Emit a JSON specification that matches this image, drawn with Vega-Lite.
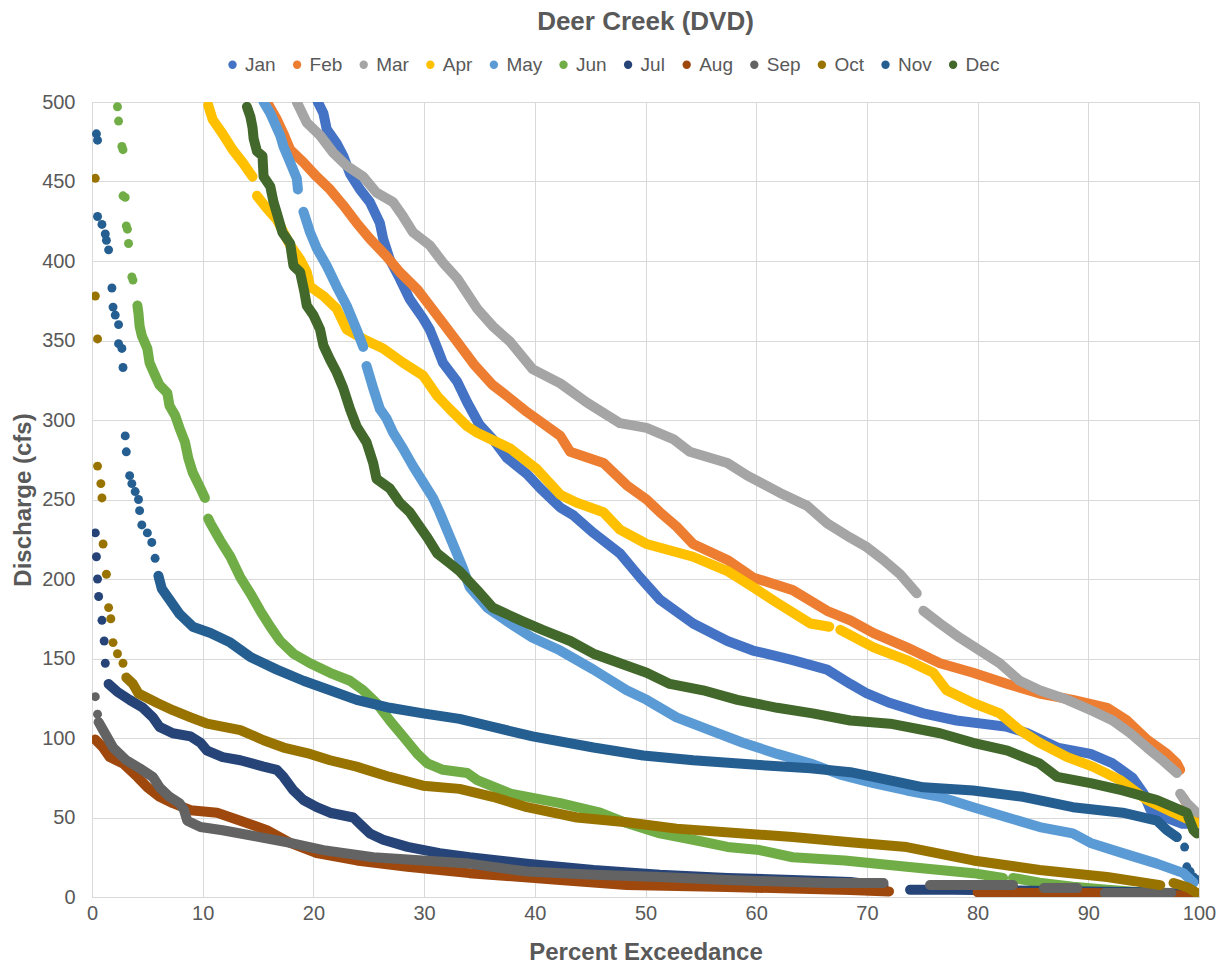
{
"$schema":"https://vega.github.io/schema/vega-lite/v6.json",
"autosize":{"type":"none"},
"width":1107,"height":795,
"padding":{"left":92,"top":102,"right":26,"bottom":71},
"background":"white",
"title":{"text":"Deer Creek (DVD)","fontSize":26,"fontWeight":"bold","color":"#595959","font":"Liberation Sans","anchor":"middle","frame":"group","offset":20},
"config":{"view":{"stroke":null},"font":"Liberation Sans"},
"datasets":{
"dense":[
{"m":"Jan","x":20.4,"y":500},{"m":"Jan","x":20.9,"y":493},{"m":"Jan","x":21.2,"y":483},{"m":"Jan","x":22.1,"y":474},{"m":"Jan","x":22.7,"y":466},{"m":"Jan","x":23.3,"y":455},{"m":"Jan","x":24.2,"y":445},{"m":"Jan","x":25.1,"y":437},{"m":"Jan","x":26,"y":424},{"m":"Jan","x":26.3,"y":414},{"m":"Jan","x":26.9,"y":401},{"m":"Jan","x":27.8,"y":389},{"m":"Jan","x":28.7,"y":376},{"m":"Jan","x":29.9,"y":364},{"m":"Jan","x":30.5,"y":357},{"m":"Jan","x":31.2,"y":345},{"m":"Jan","x":31.7,"y":336},{"m":"Jan","x":33,"y":324},{"m":"Jan","x":33.9,"y":311},{"m":"Jan","x":35,"y":297},{"m":"Jan","x":36.2,"y":288},{"m":"Jan","x":37.5,"y":276},{"m":"Jan","x":39.3,"y":266},{"m":"Jan","x":40.5,"y":257},{"m":"Jan","x":42.3,"y":245},{"m":"Jan","x":43.5,"y":240},{"m":"Jan","x":45.3,"y":229},{"m":"Jan","x":47.7,"y":216},{"m":"Jan","x":49.5,"y":201},{"m":"Jan","x":51.3,"y":187},{"m":"Jan","x":54.3,"y":172},{"m":"Jan","x":57.4,"y":161},{"m":"Jan","x":59.7,"y":155},{"m":"Jan","x":63.3,"y":149},{"m":"Jan","x":66.4,"y":143},{"m":"Jan","x":68.5,"y":134},{"m":"Jan","x":70,"y":128},{"m":"Jan","x":72.1,"y":122},{"m":"Jan","x":75.1,"y":115.5},{"m":"Jan","x":78.1,"y":111},{"m":"Jan","x":82.7,"y":107},{"m":"Jan","x":84.5,"y":103},{"m":"Jan","x":87.2,"y":94},{"m":"Jan","x":90.2,"y":90},{"m":"Jan","x":92.2,"y":84},{"m":"Jan","x":94,"y":75},{"m":"Jan","x":95,"y":65},{"m":"Jan","x":95.6,"y":55},{"m":"Jan","x":97,"y":50},{"m":"Jan","x":98.5,"y":46},{"m":"Jan","x":99.5,"y":46},
{"m":"Feb","x":15.8,"y":500},{"m":"Feb","x":16.7,"y":489},{"m":"Feb","x":17.3,"y":480},{"m":"Feb","x":17.9,"y":470},{"m":"Feb","x":19.1,"y":462},{"m":"Feb","x":20.3,"y":453},{"m":"Feb","x":21.5,"y":445},{"m":"Feb","x":22.7,"y":435},{"m":"Feb","x":23.9,"y":424},{"m":"Feb","x":25.1,"y":414},{"m":"Feb","x":26.6,"y":403},{"m":"Feb","x":27.8,"y":393},{"m":"Feb","x":29.4,"y":382},{"m":"Feb","x":30.5,"y":372},{"m":"Feb","x":31.7,"y":361},{"m":"Feb","x":33,"y":349},{"m":"Feb","x":34.5,"y":335},{"m":"Feb","x":36.2,"y":322},{"m":"Feb","x":37.5,"y":315},{"m":"Feb","x":39.3,"y":305},{"m":"Feb","x":42.3,"y":290},{"m":"Feb","x":43.2,"y":280},{"m":"Feb","x":46.2,"y":273},{"m":"Feb","x":48.3,"y":259},{"m":"Feb","x":50.1,"y":250},{"m":"Feb","x":51.3,"y":242},{"m":"Feb","x":52.8,"y":233},{"m":"Feb","x":54.3,"y":222},{"m":"Feb","x":57.4,"y":212},{"m":"Feb","x":59.7,"y":201},{"m":"Feb","x":63.3,"y":193},{"m":"Feb","x":66.4,"y":180},{"m":"Feb","x":68.5,"y":174},{"m":"Feb","x":70.6,"y":166},{"m":"Feb","x":73.6,"y":157},{"m":"Feb","x":76.6,"y":147},{"m":"Feb","x":79.6,"y":141},{"m":"Feb","x":82.7,"y":134},{"m":"Feb","x":85.6,"y":128},{"m":"Feb","x":88.6,"y":124},{"m":"Feb","x":91.7,"y":119},{"m":"Feb","x":93.5,"y":111},{"m":"Feb","x":95.3,"y":99},{"m":"Feb","x":97.1,"y":90},{"m":"Feb","x":98,"y":84},{"m":"Feb","x":98.3,"y":80},{"m":"Feb","x":98.6,"y":62,"g":2},{"m":"Feb","x":99.2,"y":55,"g":2},{"m":"Feb","x":99.8,"y":48,"g":2},
{"m":"Mar","x":18.5,"y":500},{"m":"Mar","x":19.4,"y":487},{"m":"Mar","x":20.6,"y":479},{"m":"Mar","x":21.8,"y":468},{"m":"Mar","x":23,"y":460},{"m":"Mar","x":24.5,"y":453},{"m":"Mar","x":25.7,"y":443},{"m":"Mar","x":27.2,"y":437},{"m":"Mar","x":28.1,"y":428},{"m":"Mar","x":29,"y":418},{"m":"Mar","x":30.5,"y":410},{"m":"Mar","x":31.7,"y":399},{"m":"Mar","x":33,"y":389},{"m":"Mar","x":34.8,"y":370},{"m":"Mar","x":36.2,"y":359},{"m":"Mar","x":37.8,"y":349},{"m":"Mar","x":39.8,"y":332},{"m":"Mar","x":42.3,"y":323},{"m":"Mar","x":44.7,"y":311},{"m":"Mar","x":47.7,"y":298},{"m":"Mar","x":50.1,"y":295},{"m":"Mar","x":52.5,"y":288},{"m":"Mar","x":54,"y":280},{"m":"Mar","x":57.4,"y":273},{"m":"Mar","x":59.2,"y":265},{"m":"Mar","x":62.2,"y":254},{"m":"Mar","x":64.6,"y":246},{"m":"Mar","x":66.4,"y":235},{"m":"Mar","x":68.5,"y":226},{"m":"Mar","x":70,"y":220},{"m":"Mar","x":71.5,"y":212},{"m":"Mar","x":73,"y":203},{"m":"Mar","x":74.5,"y":191},{"m":"Mar","x":75.1,"y":180,"g":2},{"m":"Mar","x":76.6,"y":172,"g":2},{"m":"Mar","x":78.4,"y":163,"g":2},{"m":"Mar","x":80.2,"y":155,"g":2},{"m":"Mar","x":82,"y":147,"g":2},{"m":"Mar","x":83.8,"y":136,"g":2},{"m":"Mar","x":85.6,"y":130,"g":2},{"m":"Mar","x":88.1,"y":124,"g":2},{"m":"Mar","x":90.4,"y":117,"g":2},{"m":"Mar","x":92.2,"y":111,"g":2},{"m":"Mar","x":93.8,"y":103,"g":2},{"m":"Mar","x":95.3,"y":94,"g":2},{"m":"Mar","x":96.7,"y":86,"g":2},{"m":"Mar","x":98,"y":78,"g":2},{"m":"Mar","x":98.3,"y":65,"g":3},{"m":"Mar","x":98.9,"y":59,"g":3},{"m":"Mar","x":99.8,"y":53,"g":3},
{"m":"Apr","x":10.5,"y":498},{"m":"Apr","x":10.9,"y":489},{"m":"Apr","x":11.8,"y":480},{"m":"Apr","x":12.7,"y":470},{"m":"Apr","x":13.6,"y":462},{"m":"Apr","x":14.5,"y":453},{"m":"Apr","x":14.9,"y":441,"g":2},{"m":"Apr","x":15.8,"y":433,"g":2},{"m":"Apr","x":16.7,"y":426,"g":2},{"m":"Apr","x":17.9,"y":410,"g":2},{"m":"Apr","x":18.8,"y":401,"g":2},{"m":"Apr","x":19.4,"y":393,"g":2},{"m":"Apr","x":19.7,"y":384,"g":2},{"m":"Apr","x":20.9,"y":378,"g":2},{"m":"Apr","x":22.1,"y":370,"g":2},{"m":"Apr","x":23,"y":357,"g":2},{"m":"Apr","x":24.5,"y":351,"g":2},{"m":"Apr","x":26.3,"y":345,"g":2},{"m":"Apr","x":28.1,"y":336,"g":2},{"m":"Apr","x":29.9,"y":328,"g":2},{"m":"Apr","x":31.2,"y":315,"g":2},{"m":"Apr","x":32.3,"y":307,"g":2},{"m":"Apr","x":33.9,"y":296,"g":2},{"m":"Apr","x":34.8,"y":292,"g":2},{"m":"Apr","x":37.8,"y":282,"g":2},{"m":"Apr","x":40.2,"y":269,"g":2},{"m":"Apr","x":42.3,"y":253,"g":2},{"m":"Apr","x":43.8,"y":248,"g":2},{"m":"Apr","x":46.2,"y":242,"g":2},{"m":"Apr","x":47.7,"y":231,"g":2},{"m":"Apr","x":50.1,"y":222,"g":2},{"m":"Apr","x":54.3,"y":214,"g":2},{"m":"Apr","x":57.4,"y":205,"g":2},{"m":"Apr","x":59.7,"y":195,"g":2},{"m":"Apr","x":61.9,"y":185,"g":2},{"m":"Apr","x":64.9,"y":172,"g":2},{"m":"Apr","x":66.6,"y":170,"g":2},{"m":"Apr","x":67.6,"y":168,"g":3},{"m":"Apr","x":70.6,"y":157,"g":3},{"m":"Apr","x":73.6,"y":149,"g":3},{"m":"Apr","x":76,"y":141,"g":3},{"m":"Apr","x":77.2,"y":130,"g":3},{"m":"Apr","x":79.6,"y":122,"g":3},{"m":"Apr","x":82,"y":115.5,"g":3},{"m":"Apr","x":83.8,"y":105,"g":3},{"m":"Apr","x":85.6,"y":97,"g":3},{"m":"Apr","x":88.1,"y":88,"g":3},{"m":"Apr","x":90.4,"y":82,"g":3},{"m":"Apr","x":92.9,"y":73.5,"g":3},{"m":"Apr","x":95.3,"y":61,"g":3},{"m":"Apr","x":97.7,"y":53,"g":3},{"m":"Apr","x":99.8,"y":46.5,"g":3},
{"m":"May","x":15.5,"y":500},{"m":"May","x":16.1,"y":493},{"m":"May","x":17,"y":479},{"m":"May","x":17.3,"y":472},{"m":"May","x":17.9,"y":462},{"m":"May","x":18.5,"y":452},{"m":"May","x":18.6,"y":445},{"m":"May","x":19.1,"y":431,"g":2},{"m":"May","x":19.7,"y":418,"g":2},{"m":"May","x":20.3,"y":408,"g":2},{"m":"May","x":21.2,"y":397,"g":2},{"m":"May","x":22.1,"y":384,"g":2},{"m":"May","x":23,"y":372,"g":2},{"m":"May","x":23.9,"y":357,"g":2},{"m":"May","x":24.5,"y":346,"g":2},{"m":"May","x":24.8,"y":334,"g":3},{"m":"May","x":25.4,"y":320,"g":3},{"m":"May","x":26,"y":307,"g":3},{"m":"May","x":26.6,"y":301,"g":3},{"m":"May","x":27.2,"y":292,"g":3},{"m":"May","x":28.1,"y":282,"g":3},{"m":"May","x":29,"y":271,"g":3},{"m":"May","x":29.9,"y":261,"g":3},{"m":"May","x":30.8,"y":251,"g":3},{"m":"May","x":31.4,"y":242,"g":3},{"m":"May","x":32.6,"y":222,"g":3},{"m":"May","x":33.5,"y":207,"g":3},{"m":"May","x":34.1,"y":195,"g":3},{"m":"May","x":35.7,"y":182,"g":3},{"m":"May","x":37.8,"y":172,"g":3},{"m":"May","x":39.8,"y":163,"g":3},{"m":"May","x":42.3,"y":155,"g":3},{"m":"May","x":45.3,"y":143,"g":3},{"m":"May","x":48.3,"y":130,"g":3},{"m":"May","x":50.1,"y":124,"g":3},{"m":"May","x":52.8,"y":113,"g":3},{"m":"May","x":55.8,"y":105,"g":3},{"m":"May","x":58.8,"y":97,"g":3},{"m":"May","x":61.9,"y":90,"g":3},{"m":"May","x":64.9,"y":84,"g":3},{"m":"May","x":67.6,"y":77,"g":3},{"m":"May","x":70.6,"y":71.6,"g":3},{"m":"May","x":73.6,"y":67,"g":3},{"m":"May","x":76.6,"y":63,"g":3},{"m":"May","x":79.6,"y":56.5,"g":3},{"m":"May","x":82.7,"y":50,"g":3},{"m":"May","x":85.6,"y":44,"g":3},{"m":"May","x":88.6,"y":40,"g":3},{"m":"May","x":90.2,"y":34,"g":3},{"m":"May","x":93.1,"y":27.6,"g":3},{"m":"May","x":96.2,"y":21,"g":3},{"m":"May","x":98.6,"y":15,"g":3},{"m":"May","x":99.5,"y":9,"g":3},
{"m":"Jun","x":4.1,"y":372},{"m":"Jun","x":4.2,"y":367},{"m":"Jun","x":4.3,"y":359},{"m":"Jun","x":4.5,"y":353},{"m":"Jun","x":5,"y":345},{"m":"Jun","x":5.2,"y":336},{"m":"Jun","x":5.7,"y":328},{"m":"Jun","x":6.1,"y":322},{"m":"Jun","x":6.8,"y":317},{"m":"Jun","x":7,"y":309},{"m":"Jun","x":7.5,"y":303},{"m":"Jun","x":7.9,"y":295},{"m":"Jun","x":8.4,"y":286},{"m":"Jun","x":8.7,"y":276},{"m":"Jun","x":9.1,"y":267},{"m":"Jun","x":9.8,"y":257},{"m":"Jun","x":10.2,"y":251},{"m":"Jun","x":10.5,"y":238,"g":2},{"m":"Jun","x":10.7,"y":235,"g":2},{"m":"Jun","x":11.6,"y":224,"g":2},{"m":"Jun","x":12.5,"y":214,"g":2},{"m":"Jun","x":13.4,"y":201,"g":2},{"m":"Jun","x":14.3,"y":191,"g":2},{"m":"Jun","x":15.2,"y":180,"g":2},{"m":"Jun","x":16.1,"y":170,"g":2},{"m":"Jun","x":17,"y":161,"g":2},{"m":"Jun","x":18.2,"y":153,"g":2},{"m":"Jun","x":19.7,"y":147,"g":2},{"m":"Jun","x":21.5,"y":141,"g":2},{"m":"Jun","x":23.3,"y":136,"g":2},{"m":"Jun","x":24.5,"y":130,"g":2},{"m":"Jun","x":25.7,"y":122,"g":2},{"m":"Jun","x":26.9,"y":111,"g":2},{"m":"Jun","x":28.1,"y":101,"g":2},{"m":"Jun","x":29.4,"y":90,"g":2},{"m":"Jun","x":30.3,"y":84,"g":2},{"m":"Jun","x":31.7,"y":80,"g":2},{"m":"Jun","x":33.9,"y":78,"g":2},{"m":"Jun","x":34.8,"y":73.5,"g":2},{"m":"Jun","x":37.8,"y":65,"g":2},{"m":"Jun","x":42.3,"y":59,"g":2},{"m":"Jun","x":45.9,"y":53,"g":2},{"m":"Jun","x":48.3,"y":46.5,"g":2},{"m":"Jun","x":51.3,"y":40,"g":2},{"m":"Jun","x":54.3,"y":36,"g":2},{"m":"Jun","x":57.4,"y":31.5,"g":2},{"m":"Jun","x":60.3,"y":29.5,"g":2},{"m":"Jun","x":63.3,"y":25,"g":2},{"m":"Jun","x":68,"y":23,"g":2},{"m":"Jun","x":73.6,"y":19,"g":2},{"m":"Jun","x":79.6,"y":15,"g":2},{"m":"Jun","x":82.3,"y":12,"g":2},{"m":"Jun","x":83.2,"y":12,"g":3},{"m":"Jun","x":85.6,"y":9,"g":3},{"m":"Jun","x":88.6,"y":6.5,"g":3},{"m":"Jun","x":91.7,"y":4.5,"g":3},{"m":"Jun","x":94.7,"y":3,"g":3},{"m":"Jun","x":97.7,"y":2.5,"g":3},{"m":"Jun","x":99.8,"y":1,"g":3},
{"m":"Jul","x":1.5,"y":134},{"m":"Jul","x":2.3,"y":129},{"m":"Jul","x":3.4,"y":124},{"m":"Jul","x":4.6,"y":119},{"m":"Jul","x":5.5,"y":113},{"m":"Jul","x":6.1,"y":107},{"m":"Jul","x":7.3,"y":103},{"m":"Jul","x":8.9,"y":101},{"m":"Jul","x":9.8,"y":97},{"m":"Jul","x":10.4,"y":92},{"m":"Jul","x":11.8,"y":88},{"m":"Jul","x":13.4,"y":86},{"m":"Jul","x":15.5,"y":82},{"m":"Jul","x":16.7,"y":80},{"m":"Jul","x":17.3,"y":75.5},{"m":"Jul","x":18.2,"y":67},{"m":"Jul","x":19.1,"y":61},{"m":"Jul","x":20.3,"y":56.5},{"m":"Jul","x":21.5,"y":53},{"m":"Jul","x":23.6,"y":50},{"m":"Jul","x":24.5,"y":44},{"m":"Jul","x":25.1,"y":40},{"m":"Jul","x":26.3,"y":36},{"m":"Jul","x":28.5,"y":31.5},{"m":"Jul","x":31.4,"y":27.6},{"m":"Jul","x":34.1,"y":25},{"m":"Jul","x":39.3,"y":21},{"m":"Jul","x":45.3,"y":17},{"m":"Jul","x":51.3,"y":14},{"m":"Jul","x":57.4,"y":12},{"m":"Jul","x":63.3,"y":10.7},{"m":"Jul","x":68.5,"y":9.4},{"m":"Jul","x":71.5,"y":7},{"m":"Jul","x":73.9,"y":4.5,"g":2},{"m":"Jul","x":77.8,"y":4.5,"g":2},{"m":"Jul","x":85,"y":4,"g":2},{"m":"Jul","x":90,"y":3.5,"g":2},{"m":"Jul","x":95,"y":3,"g":2},{"m":"Jul","x":99.8,"y":1.5,"g":2},
{"m":"Aug","x":0.3,"y":99},{"m":"Aug","x":1,"y":94},{"m":"Aug","x":1.6,"y":88},{"m":"Aug","x":2.8,"y":84},{"m":"Aug","x":4.1,"y":75.5},{"m":"Aug","x":5,"y":69},{"m":"Aug","x":6.1,"y":63},{"m":"Aug","x":7.3,"y":59},{"m":"Aug","x":8.9,"y":54.6},{"m":"Aug","x":11.3,"y":53},{"m":"Aug","x":13.4,"y":48},{"m":"Aug","x":15.8,"y":42},{"m":"Aug","x":17.9,"y":34},{"m":"Aug","x":20.3,"y":27.6},{"m":"Aug","x":23.9,"y":23},{"m":"Aug","x":28.5,"y":19},{"m":"Aug","x":34.1,"y":15},{"m":"Aug","x":42.3,"y":10.7},{"m":"Aug","x":48.3,"y":7.5},{"m":"Aug","x":57.4,"y":6.3},{"m":"Aug","x":68.5,"y":4.4},{"m":"Aug","x":72,"y":3.5},{"m":"Aug","x":80,"y":3,"g":2},{"m":"Aug","x":85,"y":2.5,"g":2},{"m":"Aug","x":90,"y":2.5,"g":2},{"m":"Aug","x":95,"y":2,"g":2},{"m":"Aug","x":99.8,"y":0.5,"g":2},
{"m":"Sep","x":0.6,"y":110},{"m":"Sep","x":1,"y":105},{"m":"Sep","x":1.9,"y":94},{"m":"Sep","x":3.1,"y":86},{"m":"Sep","x":4.3,"y":81},{"m":"Sep","x":5.5,"y":75.5},{"m":"Sep","x":6.1,"y":69},{"m":"Sep","x":7,"y":63},{"m":"Sep","x":7.9,"y":59},{"m":"Sep","x":8.3,"y":55},{"m":"Sep","x":8.6,"y":48},{"m":"Sep","x":9.8,"y":44},{"m":"Sep","x":11.8,"y":42},{"m":"Sep","x":14.9,"y":38},{"m":"Sep","x":17.9,"y":34},{"m":"Sep","x":20.9,"y":29.5},{"m":"Sep","x":25.4,"y":25},{"m":"Sep","x":29.9,"y":23},{"m":"Sep","x":34.1,"y":21},{"m":"Sep","x":39.3,"y":16},{"m":"Sep","x":45.3,"y":14},{"m":"Sep","x":51.3,"y":12.6},{"m":"Sep","x":57.4,"y":10.7},{"m":"Sep","x":63.3,"y":9.4},{"m":"Sep","x":66.4,"y":8.8},{"m":"Sep","x":71.5,"y":8.8},{"m":"Sep","x":75.7,"y":7.5,"g":2},{"m":"Sep","x":83.2,"y":7.5,"g":2},{"m":"Sep","x":86,"y":5.6,"g":3},{"m":"Sep","x":89,"y":5.6,"g":3},{"m":"Sep","x":91.5,"y":2.5,"g":4},{"m":"Sep","x":97.5,"y":2.5,"g":4},
{"m":"Oct","x":3.1,"y":138},{"m":"Oct","x":3.7,"y":134},{"m":"Oct","x":4.2,"y":128},{"m":"Oct","x":5.9,"y":122},{"m":"Oct","x":7.3,"y":117.5},{"m":"Oct","x":8.9,"y":113},{"m":"Oct","x":10.4,"y":109},{"m":"Oct","x":13.4,"y":105},{"m":"Oct","x":15.5,"y":98.6},{"m":"Oct","x":17.3,"y":94},{"m":"Oct","x":19.7,"y":90},{"m":"Oct","x":21.5,"y":86},{"m":"Oct","x":23.9,"y":82},{"m":"Oct","x":26.9,"y":75.5},{"m":"Oct","x":29.9,"y":70},{"m":"Oct","x":33.2,"y":68},{"m":"Oct","x":36.2,"y":63},{"m":"Oct","x":39.3,"y":56.5},{"m":"Oct","x":43.8,"y":50},{"m":"Oct","x":48.3,"y":47},{"m":"Oct","x":52.8,"y":43},{"m":"Oct","x":58.8,"y":40},{"m":"Oct","x":63.3,"y":37.7},{"m":"Oct","x":68.5,"y":34.5},{"m":"Oct","x":73.6,"y":31.4},{"m":"Oct","x":79.6,"y":23},{"m":"Oct","x":85.6,"y":17},{"m":"Oct","x":91.7,"y":12.6},{"m":"Oct","x":96.5,"y":7.5},{"m":"Oct","x":97.7,"y":8.8,"g":2},{"m":"Oct","x":99,"y":6,"g":2},{"m":"Oct","x":99.8,"y":2.5,"g":2},
{"m":"Nov","x":6,"y":202},{"m":"Nov","x":6.3,"y":194},{"m":"Nov","x":7,"y":187},{"m":"Nov","x":7.9,"y":178},{"m":"Nov","x":9.1,"y":170},{"m":"Nov","x":10.7,"y":166},{"m":"Nov","x":12.5,"y":160},{"m":"Nov","x":14.3,"y":151},{"m":"Nov","x":16.7,"y":143},{"m":"Nov","x":19.1,"y":136},{"m":"Nov","x":21.5,"y":130},{"m":"Nov","x":23.9,"y":124},{"m":"Nov","x":26.9,"y":119},{"m":"Nov","x":29.9,"y":115.5},{"m":"Nov","x":33.2,"y":112},{"m":"Nov","x":36.2,"y":107},{"m":"Nov","x":39.8,"y":101},{"m":"Nov","x":45.3,"y":94},{"m":"Nov","x":49.8,"y":89},{"m":"Nov","x":54.3,"y":86},{"m":"Nov","x":60.3,"y":83},{"m":"Nov","x":64.9,"y":81},{"m":"Nov","x":68.5,"y":78.5},{"m":"Nov","x":70.6,"y":75.5},{"m":"Nov","x":75.1,"y":69},{"m":"Nov","x":79.6,"y":67},{"m":"Nov","x":84.1,"y":63},{"m":"Nov","x":88.6,"y":56.5},{"m":"Nov","x":93.1,"y":53},{"m":"Nov","x":96.2,"y":48},{"m":"Nov","x":97.1,"y":42},{"m":"Nov","x":98,"y":37.7},
{"m":"Dec","x":14,"y":497},{"m":"Dec","x":14.3,"y":491},{"m":"Dec","x":14.5,"y":484},{"m":"Dec","x":14.6,"y":477},{"m":"Dec","x":14.9,"y":469},{"m":"Dec","x":15.4,"y":466},{"m":"Dec","x":15.5,"y":453},{"m":"Dec","x":16.1,"y":447},{"m":"Dec","x":16.4,"y":437},{"m":"Dec","x":16.7,"y":430},{"m":"Dec","x":17.2,"y":418},{"m":"Dec","x":17.9,"y":411},{"m":"Dec","x":18.2,"y":397},{"m":"Dec","x":18.8,"y":393},{"m":"Dec","x":19.2,"y":380},{"m":"Dec","x":19.4,"y":372},{"m":"Dec","x":20,"y":366},{"m":"Dec","x":20.6,"y":357},{"m":"Dec","x":20.9,"y":347},{"m":"Dec","x":21.5,"y":338},{"m":"Dec","x":22.1,"y":330},{"m":"Dec","x":22.7,"y":320},{"m":"Dec","x":23.3,"y":307},{"m":"Dec","x":23.9,"y":296},{"m":"Dec","x":24.8,"y":286},{"m":"Dec","x":25.4,"y":273},{"m":"Dec","x":25.7,"y":263},{"m":"Dec","x":26.9,"y":257},{"m":"Dec","x":27.8,"y":248},{"m":"Dec","x":28.7,"y":242},{"m":"Dec","x":29.4,"y":235},{"m":"Dec","x":30.3,"y":226},{"m":"Dec","x":31.2,"y":216},{"m":"Dec","x":32.3,"y":210},{"m":"Dec","x":33.2,"y":205},{"m":"Dec","x":34.8,"y":193},{"m":"Dec","x":36.2,"y":182},{"m":"Dec","x":38.7,"y":174},{"m":"Dec","x":40.7,"y":168},{"m":"Dec","x":43.2,"y":161},{"m":"Dec","x":45.3,"y":153},{"m":"Dec","x":47.7,"y":147},{"m":"Dec","x":50.1,"y":141},{"m":"Dec","x":52.2,"y":134},{"m":"Dec","x":55.2,"y":130},{"m":"Dec","x":58.3,"y":124},{"m":"Dec","x":61.9,"y":119},{"m":"Dec","x":65.1,"y":115.5},{"m":"Dec","x":68.5,"y":111},{"m":"Dec","x":72.1,"y":109},{"m":"Dec","x":76.6,"y":103},{"m":"Dec","x":79.6,"y":97},{"m":"Dec","x":82.7,"y":92},{"m":"Dec","x":85.6,"y":84},{"m":"Dec","x":87.2,"y":75.5},{"m":"Dec","x":90.2,"y":71.6},{"m":"Dec","x":93.1,"y":67},{"m":"Dec","x":96.2,"y":61},{"m":"Dec","x":98.9,"y":53},{"m":"Dec","x":99.5,"y":42},{"m":"Dec","x":99.8,"y":40}
],
"sparse":[
{"m":"Jun","x":2.3,"y":497},{"m":"Jun","x":2.4,"y":488},{"m":"Jun","x":2.7,"y":472},{"m":"Jun","x":2.8,"y":470},{"m":"Jun","x":2.8,"y":441},{"m":"Jun","x":3.0,"y":440},{"m":"Jun","x":3.1,"y":422},{"m":"Jun","x":3.2,"y":420},{"m":"Jun","x":3.3,"y":411},{"m":"Jun","x":3.6,"y":390},{"m":"Jun","x":3.7,"y":388},
{"m":"Jul","x":0.3,"y":229},{"m":"Jul","x":0.4,"y":214},{"m":"Jul","x":0.5,"y":200},{"m":"Jul","x":0.6,"y":189},{"m":"Jul","x":0.9,"y":174},{"m":"Jul","x":1.1,"y":161},{"m":"Jul","x":1.2,"y":147},
{"m":"Sep","x":0.3,"y":126},{"m":"Sep","x":0.5,"y":115},
{"m":"Oct","x":0.3,"y":452},{"m":"Oct","x":0.3,"y":378},{"m":"Oct","x":0.5,"y":351},{"m":"Oct","x":0.5,"y":271},{"m":"Oct","x":0.8,"y":260},{"m":"Oct","x":0.9,"y":251},{"m":"Oct","x":1,"y":222},{"m":"Oct","x":1.3,"y":203},{"m":"Oct","x":1.5,"y":182},{"m":"Oct","x":1.7,"y":175},{"m":"Oct","x":1.9,"y":160},{"m":"Oct","x":2.3,"y":153},{"m":"Oct","x":2.8,"y":147},
{"m":"Nov","x":0.4,"y":480},{"m":"Nov","x":0.5,"y":476},{"m":"Nov","x":0.5,"y":428},{"m":"Nov","x":0.9,"y":423},{"m":"Nov","x":1.2,"y":417},{"m":"Nov","x":1.3,"y":413},{"m":"Nov","x":1.5,"y":407},{"m":"Nov","x":1.8,"y":383},{"m":"Nov","x":1.9,"y":371},{"m":"Nov","x":2.1,"y":366},{"m":"Nov","x":2.4,"y":360},{"m":"Nov","x":2.4,"y":348},{"m":"Nov","x":2.7,"y":345},{"m":"Nov","x":2.8,"y":333},{"m":"Nov","x":3,"y":290},{"m":"Nov","x":3.1,"y":280},{"m":"Nov","x":3.4,"y":265},{"m":"Nov","x":3.6,"y":260},{"m":"Nov","x":3.9,"y":255},{"m":"Nov","x":4.2,"y":250},{"m":"Nov","x":4.3,"y":243},{"m":"Nov","x":4.5,"y":234},{"m":"Nov","x":5,"y":229},{"m":"Nov","x":5.4,"y":223},{"m":"Nov","x":5.7,"y":213},{"m":"Nov","x":98.7,"y":31.4},{"m":"Nov","x":98.9,"y":19},{"m":"Nov","x":99.2,"y":16},{"m":"Nov","x":99.5,"y":12.6},{"m":"Nov","x":99.8,"y":11}
]
},
"encoding":{
"x":{"field":"x","type":"quantitative","scale":{"domain":[0,100],"nice":false,"zero":false},
"axis":{"values":[0,10,20,30,40,50,60,70,80,90,100],"labelFlush":false,"labelFontSize":20,"labelColor":"#595959","labelPadding":6,"grid":true,"gridColor":"#D9D9D9","domainColor":"#D9D9D9","ticks":false,"title":"Percent Exceedance","titleFontSize":24,"titleFontWeight":"bold","titleColor":"#595959","titlePadding":17}},
"y":{"field":"y","type":"quantitative","scale":{"domain":[0,500],"nice":false},
"axis":{"values":[0,50,100,150,200,250,300,350,400,450,500],"labelFontSize":20,"labelColor":"#595959","labelPadding":17,"grid":true,"gridColor":"#D9D9D9","domainColor":"#D9D9D9","ticks":false,"title":"Discharge (cfs)","titleFontSize":24,"titleFontWeight":"bold","titleColor":"#595959","titlePadding":6}},
"color":{"field":"m","type":"nominal",
"scale":{"domain":["Jan","Feb","Mar","Apr","May","Jun","Jul","Aug","Sep","Oct","Nov","Dec"],"range":["#4472C4","#ED7D31","#A5A5A5","#FFC000","#5B9BD5","#70AD47","#264478","#9E480E","#636363","#997300","#255E91","#43682B"]},
"legend":{"title":null,"orient":"none","direction":"horizontal","legendX":131,"legendY":-47,"symbolType":"circle","symbolSize":70,"symbolOpacity":1,"labelFontSize":19,"labelColor":"#595959","labelOffset":3,"columnPadding":11.6,"symbolStrokeWidth":0}}
},
"layer":[
{"data":{"name":"sparse"},
"mark":{"type":"point","filled":true,"shape":"circle","size":80,"opacity":1,"clip":true}},
{"data":{"name":"dense"},
"mark":{"type":"line","strokeWidth":10,"strokeCap":"round","strokeJoin":"round","clip":true},
"encoding":{"detail":{"field":"g","type":"nominal"}}}
]
}
